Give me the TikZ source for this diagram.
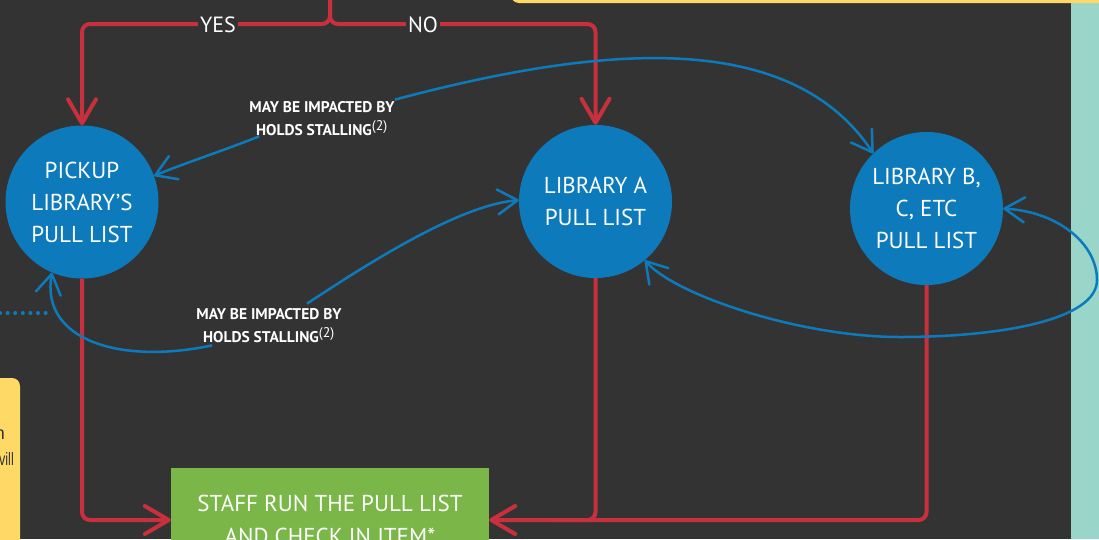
\documentclass[tikz,border=0pt]{standalone}
\usepackage{fontspec}
\setmainfont{PT Sans}
\newfontfamily\notefont{Liberation Sans}
\usetikzlibrary{arrows.meta,calc}
\definecolor{bgc}{HTML}{333333}
\definecolor{redc}{HTML}{C8303D}
\definecolor{bluec}{HTML}{0D7BBB}
\definecolor{greenc}{HTML}{7AB648}
\definecolor{yellowc}{HTML}{FFD966}
\definecolor{tealc}{HTML}{9AD5CA}
\tikzset{
  redline/.style={draw=redc, line width=4pt, rounded corners=8pt},
  redarrow/.style={redline, -{Straight Barb[length=24pt,width=28pt,round]}},
  blueline/.style={draw=bluec, line width=2.5pt},
  bluearrow/.style={blueline, -{Straight Barb[length=20pt,width=25pt,round]}},
  bluearrows/.style={blueline, {Straight Barb[length=20pt,width=25pt,round]}-{Straight Barb[length=20pt,width=25pt,round]}},
  dotline/.style={draw=bluec, line width=4pt, line cap=round, dash pattern=on 0pt off 7.6pt},
  circ/.style={circle, fill=bluec, minimum size=153pt, inner sep=0pt, text=white, align=center, font=\fontsize{23}{32}\selectfont},
  staffbox/.style={rectangle, fill=greenc, minimum width=318pt, minimum height=104pt, inner sep=0pt, text=white, align=center, font=\fontsize{23}{33}\selectfont},
  lab/.style={inner sep=0pt, text=white, align=center, font=\bfseries\fontsize{15.5}{23}\selectfont},
  yn/.style={fill=bgc, inner sep=2pt, text=white, font=\fontsize{22}{26}\selectfont},
  note/.style={inner sep=0pt, text=bgc, font=\notefont\fontsize{18}{25}\selectfont}
}
\newcommand{\supnote}{\textsuperscript{\normalfont\fontsize{14}{14}\selectfont(2)}}
\begin{document}
\begin{tikzpicture}[x=1pt,y=-1pt]
\useasboundingbox (0,0) rectangle (1099,539);
\clip (0,0) rectangle (1099,539);
\fill[bgc] (0,0) rectangle (1099,539);
\fill[tealc] (1071,0) rectangle (1099,539);
\fill[yellowc, rounded corners=8pt] (511,-30) rectangle (1130,3);
\fill[yellowc, rounded corners=8pt] (-20,378) rectangle (20,580);
\node[note, anchor=base east] (n1) at (5,439) {n};
\node[note, anchor=base west, xscale=0.7] (n2) at (-1,465) {vill};

% nodes
\node[circ] (pick) at (82,202) {PICKUP\\LIBRARY'S\\PULL LIST};
\node[circ] (liba) at (595.5,201.5) {LIBRARY A\\PULL LIST};
\node[circ] (libb) at (926.5,208.5) {LIBRARY B,\\C, ETC\\PULL LIST};
\node[staffbox] (staff) at (330,520) {STAFF RUN THE PULL LIST\\AND CHECK IN ITEM*};
\node[lab] (lab1) at (322,119) {MAY BE IMPACTED BY\\HOLDS STALLING\supnote};
\node[lab] (lab2) at (269,326) {MAY BE IMPACTED BY\\HOLDS STALLING\supnote};
\coordinate (top) at (330,-2);
\coordinate (d0) at (0,313);
\coordinate (d1) at (47,313);

% red connectors
\draw[redarrow] (top) -- ++(0,26) -| (pick);
\draw[redarrow] (top) -- ++(0,26) -| (liba);
\draw[redline] (liba) -- (liba |- staff.east) -- ++(-40,0);
\draw[redarrow] (pick) |- (staff);
\draw[redarrow] (libb) |- (staff);
\node[yn] (yes) at (218,25) {YES};
\node[yn] (no) at (423,25) {NO};

% blue connectors
\draw[bluearrow] ([yshift=2pt]lab1.north east) .. controls (600,45) and (790,28) .. (libb.134);
\draw[bluearrow] ([xshift=10pt]lab1.south west) .. controls (225,150) and (185,163) .. (pick.20);
\draw[bluearrow] ([xshift=38pt,yshift=5pt]lab2.north) .. controls (370,262) and (460,205) .. (liba.179);
\draw[bluearrow] ([xshift=16pt,yshift=-2pt]lab2.south west) .. controls (120,365) and (40,340) .. (pick.247);
\draw[bluearrows] (libb.east) .. controls (1060,212) and (1097,245) .. (1097,280) .. controls (1097,320) and (1000,337) .. (900,337) .. controls (800,337) and (675,295) .. (liba.310);
\draw[dotline] (d0) -- (d1);
\end{tikzpicture}
\end{document}
